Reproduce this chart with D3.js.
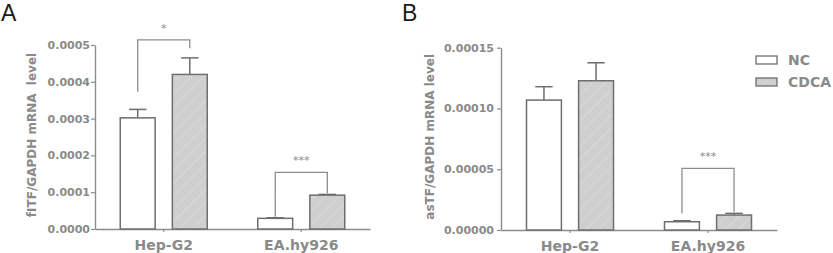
<!DOCTYPE html>
<html>
<head>
<meta charset="utf-8">
<script src="https://cdn.jsdelivr.net/npm/d3@7"></script>
<style>
  body { margin: 0; background: #fff; }
  svg text { font-family: "DejaVu Sans", sans-serif; }
</style>
</head>
<body>
<svg id="chart" width="833" height="253"></svg>
<script>
// Categories
const cellLines = ["Hep-G2", "EA.hy926"];
const treatments = ["NC", "CDCA"];

// Panel A: fITF/GAPDH mRNA level (mean, SEM)
const fitfNC = [0.000302, 0.000029];
const fitfNCsem = [0.000023, 0.0000015];
const fitfCDCA = [0.000420, 0.000092];
const fitfCDCAsem = [0.000045, 0.000002];
const fitfTicks = [0, 0.0001, 0.0002, 0.0003, 0.0004, 0.0005];
// significance brackets: cell line, label, top, NC leg end, CDCA leg end
const fitfSig = [
    { cell: "Hep-G2", label: "*", top: 0.000514, left: 0.000373, right: 0.000491 },
    { cell: "EA.hy926", label: "***", top: 0.000154, left: 0.000033, right: 0.000097 }
];

// Panel B: asTF/GAPDH mRNA level (mean, SEM)
const astfNC = [0.0001069, 0.0000068];
const astfNCsem = [0.000011, 0.0000008];
const astfCDCA = [0.0001228, 0.0000123];
const astfCDCAsem = [0.0000148, 0.0000014];
const astfTicks = [0, 0.00005, 0.0001, 0.00015];
const astfSig = [
    { cell: "EA.hy926", label: "***", top: 0.0000507, left: 0.0000137, right: 0.000015 }
];

const textColor = "#8a8a8a";
const lineColor = "#8c8c8c";
const barStroke = "#6e6e6e";

const svg = d3.select("#chart");

// Hatch pattern for the CDCA bars
const defs = svg.append("defs");
const hatch = defs.append("pattern")
    .attr("id", "hatch")
    .attr("patternUnits", "userSpaceOnUse")
    .attr("width", 9)
    .attr("height", 9)
    .attr("patternTransform", "rotate(45)");
hatch.append("rect").attr("width", 9).attr("height", 9).attr("fill", "#cfcfcf");
hatch.append("line")
    .attr("x1", 0).attr("y1", 0).attr("x2", 0).attr("y2", 9)
    .attr("stroke", "#dedede").attr("stroke-width", 1.2);

const panels = [
    {
        letter: "A", letterX: 1, axisX: 95, axisEnd: 370, top: 45, bottom: 229,
        max: 0.0005, ticks: fitfTicks, fmt: d3.format(".4f"),
        ylabel: "fITF/GAPDH mRNA\u00a0\u00a0level", labelX: 36,
        nc: fitfNC, ncSem: fitfNCsem, cdca: fitfCDCA, cdcaSem: fitfCDCAsem, sig: fitfSig,
        tickPad: 1
    },
    {
        letter: "B", letterX: 402, axisX: 501, axisEnd: 777, top: 47.7, bottom: 230,
        max: 0.00015, ticks: astfTicks, fmt: d3.format(".5f"),
        ylabel: "asTF/GAPDH mRNA level", labelX: 434,
        nc: astfNC, ncSem: astfNCsem, cdca: astfCDCA, cdcaSem: astfCDCAsem, sig: astfSig,
        tickPad: 3
    }
];

panels.forEach(p => {
    const g = svg.append("g");

    const y = d3.scaleLinear().domain([0, p.max]).range([p.bottom, p.top]);
    const x = d3.scaleBand().domain(cellLines).range([p.axisX, p.axisEnd]);
    const xInner = d3.scaleBand().domain(treatments).range([-43.5, 43.5]).paddingInner(0.33);

    // Panel letter
    g.append("text")
        .attr("x", p.letterX)
        .attr("y", 21)
        .style("font-family", "'Liberation Sans', Arial, sans-serif")
        .style("font-size", "23px")
        .attr("fill", "#1a1a1a")
        .text(p.letter);

    // Y axis
    const yAxis = g.append("g")
        .attr("transform", `translate(${p.axisX},0)`)
        .call(d3.axisLeft(y).tickValues(p.ticks).tickFormat(p.fmt).tickSize(4).tickPadding(p.tickPad).tickSizeOuter(0));
    yAxis.select(".domain").attr("stroke", lineColor).attr("stroke-width", 1.4);
    yAxis.selectAll(".tick line").attr("stroke", lineColor).attr("stroke-width", 1.2);
    yAxis.selectAll(".tick text")
        .attr("fill", textColor)
        .style("font-size", "11px")
        .style("font-weight", "bold");

    // X axis
    const xAxis = g.append("g")
        .attr("transform", `translate(0,${p.bottom})`)
        .call(d3.axisBottom(x).tickSize(3).tickPadding(8).tickSizeOuter(0));
    xAxis.select(".domain").attr("stroke", lineColor).attr("stroke-width", 1.4);
    xAxis.selectAll(".tick line").attr("stroke", lineColor).attr("stroke-width", 1.2);
    xAxis.selectAll(".tick text")
        .attr("fill", textColor)
        .style("font-size", "14px")
        .style("font-weight", "bold");

    // Y label
    g.append("text")
        .attr("transform", `translate(${p.labelX},${(p.top + p.bottom) / 2 - 2}) rotate(-90)`)
        .attr("text-anchor", "middle")
        .attr("fill", textColor)
        .style("font-size", "12px")
        .style("font-weight", "bold")
        .text(p.ylabel);

    // Bars
    const rows = cellLines.map((c, i) => [
        { cell: c, t: "NC", v: p.nc[i], sem: p.ncSem[i] },
        { cell: c, t: "CDCA", v: p.cdca[i], sem: p.cdcaSem[i] }
    ]).flat();

    const cx = d => x(d.cell) + x.bandwidth() / 2 + xInner(d.t);
    const bw = xInner.bandwidth();

    // error bars (upper only)
    rows.forEach(d => {
        const mid = cx(d) + bw / 2;
        const capHalf = bw / 4;
        g.append("line")
            .attr("x1", mid).attr("x2", mid)
            .attr("y1", y(d.v)).attr("y2", y(d.v + d.sem))
            .attr("stroke", barStroke).attr("stroke-width", 1.5);
        g.append("line")
            .attr("x1", mid - capHalf).attr("x2", mid + capHalf)
            .attr("y1", y(d.v + d.sem)).attr("y2", y(d.v + d.sem))
            .attr("stroke", barStroke).attr("stroke-width", 1.5);
    });

    g.selectAll(".bar")
        .data(rows)
        .enter().append("rect")
        .attr("x", cx)
        .attr("y", d => y(d.v))
        .attr("width", bw)
        .attr("height", d => p.bottom - y(d.v))
        .attr("fill", d => d.t === "NC" ? "#fff" : "url(#hatch)")
        .attr("stroke", barStroke)
        .attr("stroke-width", 1.5);

    // Significance brackets
    p.sig.forEach(s => {
        const lx = x(s.cell) + x.bandwidth() / 2 + xInner("NC") + bw / 2;
        const rx = x(s.cell) + x.bandwidth() / 2 + xInner("CDCA") + bw / 2;
        const path = d3.path();
        path.moveTo(lx, y(s.left));
        path.lineTo(lx, y(s.top));
        path.lineTo(rx, y(s.top));
        path.lineTo(rx, y(s.right));
        g.append("path")
            .attr("d", path.toString())
            .attr("fill", "none")
            .attr("stroke", lineColor)
            .attr("stroke-width", 1.3);
        g.append("text")
            .attr("x", (lx + rx) / 2)
            .attr("y", y(s.top) - 8)
            .attr("text-anchor", "middle")
            .attr("fill", textColor)
            .style("font-size", "11px")
            .text(s.label);
    });
});

// Legend
const legend = svg.append("g").attr("transform", "translate(756,56)");
treatments.forEach((t, i) => {
    const row = legend.append("g").attr("transform", `translate(0,${i * 22})`);
    row.append("rect")
        .attr("width", 21).attr("height", 8)
        .attr("fill", t === "NC" ? "#fff" : "url(#hatch)")
        .attr("stroke", barStroke).attr("stroke-width", 1.3);
    row.append("text")
        .attr("x", 32).attr("y", 4)
        .attr("dy", "0.36em")
        .attr("fill", textColor)
        .style("font-size", "14px")
        .style("font-weight", "bold")
        .text(t);
});
</script>
</body>
</html>
